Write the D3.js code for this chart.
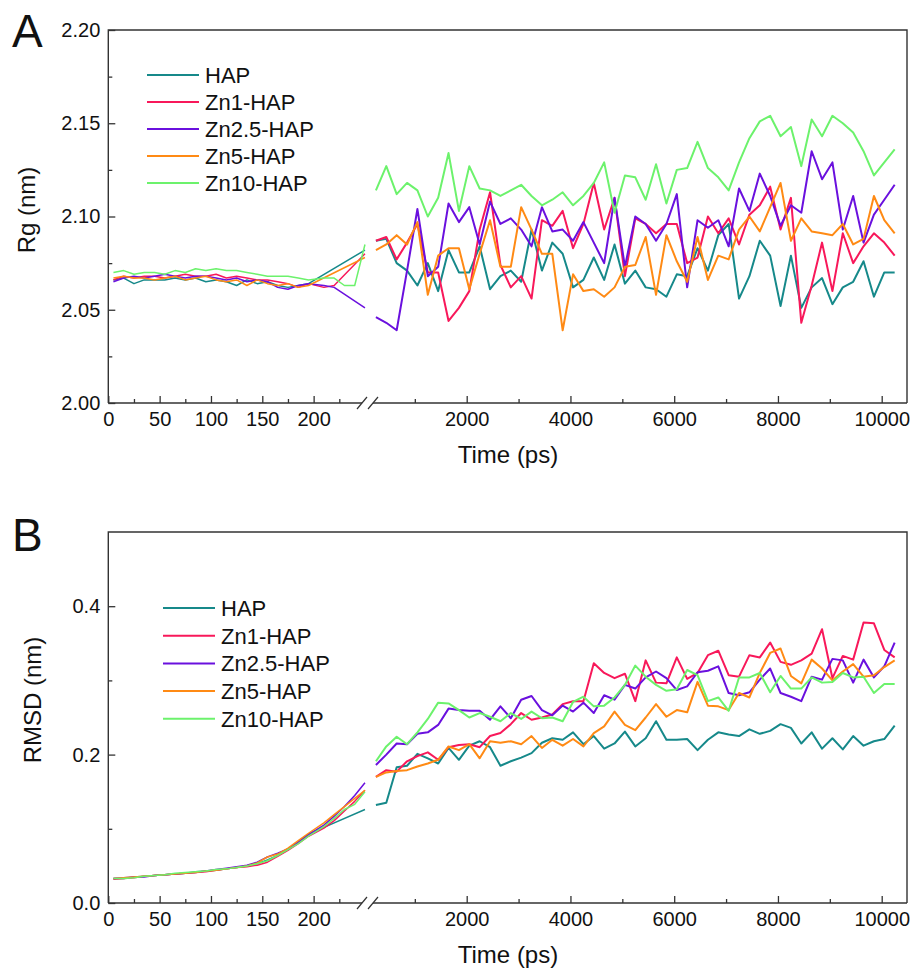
<!DOCTYPE html>
<html>
<head>
<meta charset="utf-8">
<script src="https://cdnjs.cloudflare.com/ajax/libs/d3/7.8.5/d3.min.js"></script>
<style>
	body { margin: 0; background: #fff; }
	svg text { font-family: "Liberation Sans", Arial, sans-serif; fill: #111; }
</style>
</head>
<body>
<div class="mainContainer"></div>
<script>
var seriesNames = ['HAP', 'Zn1-HAP', 'Zn2.5-HAP', 'Zn5-HAP', 'Zn10-HAP'];
var seriesColors = ['#16898a', '#f8185a', '#6a10de', '#ff8a14', '#6cf26c'];

// time points (ps): short run left of the axis break, long run right of it
var leftTime = [5, 15, 25, 35, 45, 55, 65, 75, 85, 95, 105, 115, 125, 135, 145, 155, 165, 175, 185, 195, 210, 220, 230, 240, 250];
var rightTime = d3.range(250, 10251, 200);

var leftTicks = [0, 50, 100, 150, 200];
var leftMinor = [25, 75, 125, 175, 225];
var rightTicks = [2000, 4000, 6000, 8000, 10000];
var rightMinor = [1000, 3000, 5000, 7000, 9000];

// panel A : Rg (nm)
var rgLeftHAP = [2.066, 2.067, 2.064, 2.066, 2.066, 2.066, 2.067, 2.066, 2.067, 2.065, 2.066, 2.065, 2.063, 2.066, 2.064, 2.065, 2.063, 2.062, 2.063, 2.064, null, null, null, null, 2.082];
var rgLeftZn1 = [2.066, 2.068, 2.067, 2.068, 2.068, 2.067, 2.068, 2.069, 2.068, 2.068, 2.069, 2.067, 2.068, 2.067, 2.066, 2.066, 2.065, 2.064, 2.062, 2.064, 2.062, 2.063, null, null, 2.080];
var rgLeftZn25 = [2.065, 2.067, 2.068, 2.067, 2.068, 2.069, 2.068, 2.067, 2.068, 2.068, 2.067, 2.066, 2.067, 2.065, 2.066, 2.065, 2.062, 2.061, 2.063, 2.064, 2.063, 2.062, null, null, 2.051];
var rgLeftZn5 = [2.067, 2.068, 2.067, 2.067, 2.066, 2.067, 2.068, 2.066, 2.067, 2.068, 2.066, 2.065, 2.066, 2.063, 2.066, 2.064, 2.063, 2.064, 2.062, 2.063, null, null, null, null, 2.078];
var rgLeftZn10 = [2.070, 2.071, 2.069, 2.070, 2.070, 2.069, 2.071, 2.070, 2.072, 2.071, 2.072, 2.071, 2.071, 2.070, 2.069, 2.068, 2.068, 2.068, 2.067, 2.066, 2.067, 2.067, 2.063, 2.063, 2.085];

var rgRightHAP = [2.087, 2.088, 2.075, 2.071, 2.063, 2.075, 2.060, 2.082, 2.070, 2.070, 2.084, 2.061, 2.068, 2.071, 2.065, 2.093, 2.071, 2.086, 2.080, 2.062, 2.066, 2.078, 2.066, 2.085, 2.064, 2.071,
	2.062, 2.061, 2.057, 2.069, 2.068, 2.083, 2.071, 2.090, 2.096, 2.056, 2.068, 2.087, 2.079, 2.052, 2.079, 2.051, 2.062, 2.067, 2.053, 2.062, 2.065, 2.076, 2.057, 2.070, 2.070];
var rgRightZn1 = [2.087, 2.089, 2.077, 2.086, 2.096, 2.070, 2.070, 2.044, 2.051, 2.060, 2.093, 2.113, 2.074, 2.062, 2.068, 2.056, 2.098, 2.095, 2.103, 2.083, 2.096, 2.118, 2.093, 2.110, 2.068,
	2.099, 2.096, 2.091, 2.096, 2.096, 2.075, 2.078, 2.100, 2.091, 2.099, 2.085, 2.101, 2.106, 2.116, 2.093, 2.110, 2.043, 2.063, 2.086, 2.060, 2.091, 2.075, 2.084, 2.091, 2.086, 2.079];
var rgRightZn25 = [2.046, 2.043, 2.039, 2.071, 2.104, 2.068, 2.073, 2.107, 2.097, 2.105, 2.085, 2.108, 2.096, 2.099, 2.093, 2.084, 2.105, 2.092, 2.093, 2.087, 2.097, 2.086, 2.075, 2.110, 2.073, 2.100,
	2.096, 2.087, 2.096, 2.112, 2.062, 2.098, 2.094, 2.098, 2.084, 2.115, 2.103, 2.123, 2.111, 2.095, 2.106, 2.102, 2.135, 2.120, 2.129, 2.093, 2.111, 2.086, 2.101, 2.109, 2.117];
var rgRightZn5 = [2.082, 2.085, 2.090, 2.085, 2.097, 2.058, 2.079, 2.083, 2.083, 2.061, 2.080, 2.098, 2.073, 2.073, 2.105, 2.093, 2.080, 2.080, 2.039, 2.069, 2.060, 2.061, 2.057, 2.062, 2.073, 2.074,
	2.089, 2.058, 2.090, 2.076, 2.065, 2.089, 2.066, 2.079, 2.077, 2.093, 2.100, 2.092, 2.105, 2.118, 2.087, 2.099, 2.092, 2.091, 2.090, 2.096, 2.085, 2.088, 2.111, 2.098, 2.091];
var rgRightZn10 = [2.114, 2.127, 2.112, 2.118, 2.114, 2.100, 2.110, 2.134, 2.103, 2.127, 2.115, 2.114, 2.111, 2.114, 2.117, 2.111, 2.106, 2.109, 2.113, 2.106, 2.111, 2.118, 2.129, 2.102, 2.122, 2.121,
	2.109, 2.128, 2.107, 2.125, 2.126, 2.140, 2.126, 2.121, 2.114, 2.129, 2.142, 2.151, 2.154, 2.143, 2.148, 2.127, 2.152, 2.143, 2.154, 2.150, 2.145, 2.135, 2.122, 2.129, 2.136];

// panel B : RMSD (nm)
var rmsdLeftHAP = [0.033, 0.033, 0.035, 0.036, 0.037, 0.038, 0.039, 0.040, 0.042, 0.043, 0.044, 0.046, 0.048, 0.050, 0.053, 0.058, 0.064, 0.072, 0.082, 0.093, 0.102, null, null, null, 0.126];
var rmsdLeftZn1 = [0.032, 0.033, 0.034, 0.036, 0.037, 0.038, 0.039, 0.040, 0.041, 0.042, 0.044, 0.046, 0.048, 0.049, 0.051, 0.055, 0.063, 0.071, 0.080, 0.090, 0.101, 0.111, 0.124, 0.137, 0.152];
var rmsdLeftZn25 = [0.033, 0.034, 0.035, 0.035, 0.037, 0.038, 0.039, 0.040, 0.041, 0.043, 0.045, 0.047, 0.049, 0.051, 0.055, 0.062, 0.067, 0.073, 0.082, 0.092, 0.105, 0.117, 0.130, 0.145, 0.162];
var rmsdLeftZn5 = [0.033, 0.034, 0.035, 0.036, 0.037, 0.038, 0.039, 0.040, 0.041, 0.043, 0.044, 0.046, 0.048, 0.050, 0.054, 0.062, 0.066, 0.074, 0.084, 0.094, 0.108, 0.119, 0.130, 0.141, 0.152];
var rmsdLeftZn10 = [0.033, 0.033, 0.034, 0.036, 0.037, 0.038, 0.040, 0.041, 0.042, 0.043, 0.045, 0.046, 0.048, 0.050, 0.053, 0.057, 0.064, 0.072, 0.080, 0.090, 0.103, 0.114, 0.126, 0.133, 0.150];

var rmsdRightHAP = [0.132, 0.135, 0.183, 0.185, 0.201, 0.195, 0.188, 0.209, 0.193, 0.212, 0.218, 0.210, 0.185, 0.191, 0.196, 0.202, 0.216, 0.222, 0.220, 0.230, 0.214, 0.225, 0.208, 0.215,
	0.231, 0.211, 0.222, 0.245, 0.220, 0.220, 0.221, 0.206, 0.220, 0.230, 0.227, 0.225, 0.234, 0.228, 0.232, 0.241, 0.236, 0.215, 0.230, 0.208, 0.222, 0.207, 0.225, 0.212, 0.218, 0.221, 0.239];
var rmsdRightZn1 = [0.170, 0.179, 0.177, 0.191, 0.198, 0.203, 0.193, 0.210, 0.213, 0.214, 0.210, 0.225, 0.229, 0.241, 0.256, 0.247, 0.250, 0.254, 0.268, 0.272, 0.272, 0.323, 0.310, 0.303, 0.309, 0.272,
	0.327, 0.297, 0.296, 0.331, 0.302, 0.310, 0.334, 0.340, 0.307, 0.305, 0.334, 0.331, 0.351, 0.325, 0.321, 0.327, 0.336, 0.369, 0.303, 0.333, 0.328, 0.378, 0.377, 0.341, 0.331];
var rmsdRightZn25 = [0.186, 0.200, 0.215, 0.214, 0.228, 0.230, 0.240, 0.262, 0.260, 0.259, 0.259, 0.247, 0.265, 0.249, 0.274, 0.279, 0.260, 0.253, 0.266, 0.258, 0.270, 0.256, 0.280, 0.274, 0.294, 0.289,
	0.304, 0.312, 0.303, 0.287, 0.292, 0.311, 0.313, 0.319, 0.283, 0.280, 0.284, 0.301, 0.316, 0.283, 0.278, 0.272, 0.305, 0.301, 0.329, 0.327, 0.297, 0.328, 0.304, 0.319, 0.351];
var rmsdRightZn5 = [0.170, 0.176, 0.178, 0.179, 0.184, 0.188, 0.193, 0.211, 0.206, 0.214, 0.195, 0.218, 0.216, 0.218, 0.214, 0.225, 0.209, 0.220, 0.212, 0.221, 0.211, 0.229, 0.238, 0.258, 0.240, 0.233,
	0.250, 0.268, 0.251, 0.260, 0.257, 0.298, 0.266, 0.265, 0.260, 0.283, 0.277, 0.310, 0.337, 0.343, 0.306, 0.296, 0.328, 0.316, 0.300, 0.312, 0.322, 0.305, 0.307, 0.318, 0.327];
var rmsdRightZn10 = [0.191, 0.211, 0.224, 0.214, 0.230, 0.248, 0.270, 0.269, 0.260, 0.250, 0.256, 0.251, 0.245, 0.256, 0.248, 0.258, 0.249, 0.250, 0.245, 0.271, 0.278, 0.265, 0.266, 0.277, 0.294, 0.320,
	0.305, 0.294, 0.286, 0.288, 0.314, 0.307, 0.272, 0.277, 0.259, 0.304, 0.304, 0.310, 0.284, 0.306, 0.289, 0.289, 0.304, 0.297, 0.298, 0.310, 0.304, 0.305, 0.283, 0.295, 0.295];

var width = 913, height = 968;
var plotLeft = 108.3, plotRight = 907;
var breakLeft = 362, breakRight = 373;

var svg = d3.select('.mainContainer').append('svg').attr('width', width).attr('height', height);

// broken x axis: two linear pieces
var xLeft = d3.scaleLinear().domain([0, 225]).range([plotLeft, 339.3]);
var xRight = d3.scaleLinear().domain([2000, 10000]).range([466.7, 881.7]);

var line = function(scale, y) {
	return d3.line().x(function(d) { return scale(d[0]); }).y(function(d) { return y(d[1]); });
};

function pairs(times, values) {
	var out = [];
	for (var i = 0; i < times.length; i++) {
		if (values[i] != null) out.push([times[i], values[i]]);
	}
	return out;
}

function drawPanel(p) {
	var g = svg.append('g');
	var y = d3.scaleLinear().domain(p.yDomain).range([p.bottom, p.top]);

	// series
	for (var s = 0; s < seriesNames.length; s++) {
		g.append('path').datum(pairs(leftTime, p.left[s]))
			.attr('d', line(xLeft, y)).style('fill', 'none').style('stroke', seriesColors[s]).style('stroke-width', 1.5).style('stroke-linejoin', 'round');
		g.append('path').datum(pairs(rightTime, p.right[s]))
			.attr('d', line(xRight, y)).style('fill', 'none').style('stroke', seriesColors[s]).style('stroke-width', 2).style('stroke-linejoin', 'round');
	}

	// frame (left, top, right) + bottom line with break
	g.append('path').attr('d', 'M' + plotLeft + ',' + p.bottom + 'V' + p.top + 'H' + plotRight + 'V' + p.bottom)
		.style('fill', 'none').style('stroke', '#333').style('stroke-width', 1.4);
	g.append('line').attr('x1', plotLeft).attr('x2', breakLeft).attr('y1', p.bottom).attr('y2', p.bottom).style('stroke', '#333').style('stroke-width', 1.4);
	g.append('line').attr('x1', breakRight).attr('x2', plotRight).attr('y1', p.bottom).attr('y2', p.bottom).style('stroke', '#333').style('stroke-width', 1.4);
	[breakLeft, breakRight].forEach(function(bx) {
		g.append('line').attr('x1', bx - 5).attr('y1', p.bottom + 6).attr('x2', bx + 5).attr('y2', p.bottom - 6).style('stroke', '#333').style('stroke-width', 1.2);
	});

	// y axis, ticks pointing inward
	var yAxis = g.append('g').attr('transform', 'translate(' + plotLeft + ',0)')
		.call(d3.axisLeft(y).tickValues(p.yTicks).tickSize(-7).tickPadding(8).tickFormat(d3.format(p.yFormat)));
	g.append('g').attr('transform', 'translate(' + plotLeft + ',0)')
		.call(d3.axisLeft(y).tickValues(p.yMinor).tickSize(-4).tickFormat(''));

	// x axes
	var xa1 = g.append('g').attr('transform', 'translate(0,' + p.bottom + ')')
		.call(d3.axisBottom(xLeft).tickValues(leftTicks).tickSize(-7).tickPadding(9).tickFormat(d3.format('d')));
	g.append('g').attr('transform', 'translate(0,' + p.bottom + ')')
		.call(d3.axisBottom(xLeft).tickValues(leftMinor).tickSize(-4).tickFormat(''));
	var xa2 = g.append('g').attr('transform', 'translate(0,' + p.bottom + ')')
		.call(d3.axisBottom(xRight).tickValues(rightTicks).tickSize(-7).tickPadding(9).tickFormat(d3.format('d')));
	g.append('g').attr('transform', 'translate(0,' + p.bottom + ')')
		.call(d3.axisBottom(xRight).tickValues(rightMinor).tickSize(-4).tickFormat(''));

	g.selectAll('.domain').remove();
	g.selectAll('.tick line').style('stroke', '#333').style('stroke-width', 1.3);
	g.selectAll('.tick text').style('font-size', '20px').style('fill', '#111');

	// titles
	g.append('text').attr('x', 508).attr('y', p.bottom + 60).attr('text-anchor', 'middle').style('font-size', '24px').text('Time (ps)');
	g.append('text').attr('transform', 'translate(' + p.yTitleX + ',' + p.yTitleY + ') rotate(-90)')
		.attr('text-anchor', 'middle').style('font-size', '24px').text(p.yTitle);
	g.append('text').attr('x', 12).attr('y', p.letterY).style('font-size', '46px').text(p.letter);

	// legend
	for (var s = 0; s < seriesNames.length; s++) {
		var ly = p.legendY + s * p.legendGap;
		g.append('line').attr('x1', p.legendX).attr('x2', p.legendX + 52).attr('y1', ly).attr('y2', ly)
			.style('stroke', seriesColors[s]).style('stroke-width', 2);
		g.append('text').attr('x', p.legendX + 58).attr('y', ly + 8).style('font-size', '22px').text(seriesNames[s]);
	}
}

drawPanel({
	top: 30, bottom: 403,
	yDomain: [2.0, 2.2], yTicks: [2.0, 2.05, 2.1, 2.15, 2.2], yMinor: [2.025, 2.075, 2.125, 2.175], yFormat: '.2f',
	yTitle: 'Rg (nm)', yTitleX: 35, yTitleY: 210,
	letter: 'A', letterY: 47,
	legendX: 147, legendY: 75, legendGap: 27,
	left: [rgLeftHAP, rgLeftZn1, rgLeftZn25, rgLeftZn5, rgLeftZn10],
	right: [rgRightHAP, rgRightZn1, rgRightZn25, rgRightZn5, rgRightZn10]
});

drawPanel({
	top: 532, bottom: 903,
	yDomain: [0, 0.5], yTicks: [0, 0.2, 0.4], yMinor: [0.1, 0.3], yFormat: '.1f',
	yTitle: 'RMSD (nm)', yTitleX: 41, yTitleY: 700,
	letter: 'B', letterY: 551,
	legendX: 163, legendY: 608, legendGap: 27.7,
	left: [rmsdLeftHAP, rmsdLeftZn1, rmsdLeftZn25, rmsdLeftZn5, rmsdLeftZn10],
	right: [rmsdRightHAP, rmsdRightZn1, rmsdRightZn25, rmsdRightZn5, rmsdRightZn10]
});
</script>
</body>
</html>
